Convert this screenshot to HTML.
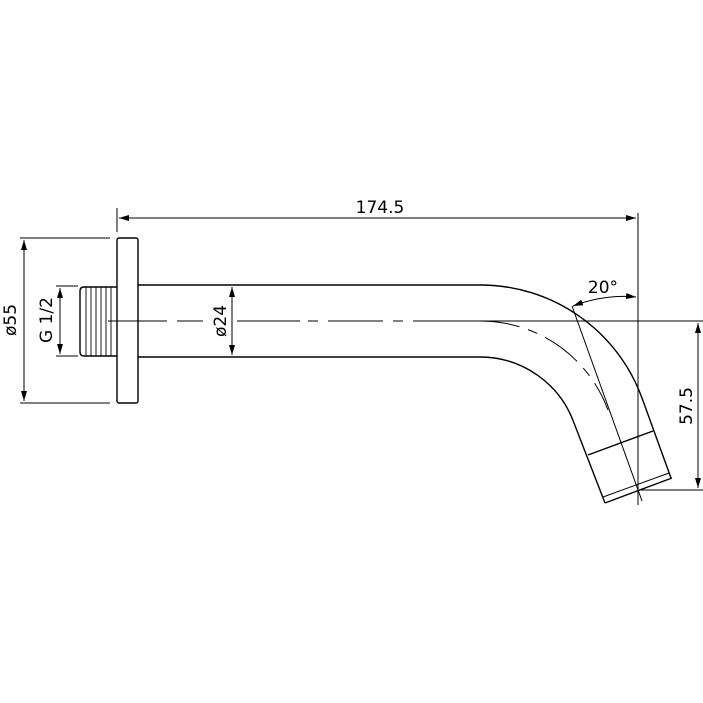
<!DOCTYPE html>
<html><head><meta charset="utf-8"><style>body{margin:0;background:#fff}svg{display:block}</style></head><body>
<svg width="703" height="703" viewBox="0 0 703 703" xmlns="http://www.w3.org/2000/svg">
<defs>
<marker id="a" viewBox="0 0 10 6" refX="10" refY="3" markerWidth="10" markerHeight="6" markerUnits="userSpaceOnUse" orient="auto-start-reverse"><path d="M0,0L10,3L0,6z" fill="#000"/></marker>
</defs>
<g fill="none" stroke="#000" stroke-width="1.4">
<rect x="117" y="238" width="21" height="165" rx="2"/>
<path d="M117,287 H84 Q80,287 80,291 V352 Q80,356 84,356 H117"/>
<g stroke-width="0.9">
<path d="M86,287V356M91,287V356M96,287V356M101,287V356M106,287V356M111,287V356"/>
</g>
<path d="M138,285 H480 A172,172 0 0 1 642,398 L671,478"/>
<path d="M138,357 H480 A100,100 0 0 1 574,423 L605,503"/>
<path d="M605,503 L672,478"/>
<path d="M603,497 L669,473" stroke-width="1"/>
<path d="M588,455 L653,431"/>
<g stroke-width="1">
<path d="M108,321 H150"/>
<path d="M150,321 H167 M177,321 H203"/>
<path d="M237,321 H300 M308,321 H318 M328,321 H383 M393,321 H403 M413,321 H480"/>
<path d="M480,321 A136,136 0 0 1 608,410" stroke-dasharray="40 9 10 9"/>
<path d="M480,321 H703"/>
<path d="M572,306 L642,501"/>
<path d="M638,213 V505"/>
<path d="M640,490 H703"/>
<path d="M117,208 V232"/>
<path d="M20,238 H110 M20,403 H110"/>
<path d="M56,286 H78 M56,356 H78"/>
</g>
<g stroke-width="1">
<path d="M119,218 H636" marker-start="url(#a)" marker-end="url(#a)"/>
<path d="M24,240 V401" marker-start="url(#a)" marker-end="url(#a)"/>
<path d="M60,288 V354" marker-start="url(#a)" marker-end="url(#a)"/>
<path d="M232,287 V355" marker-start="url(#a)" marker-end="url(#a)"/>
<path d="M698,323 V488" marker-start="url(#a)" marker-end="url(#a)"/>
<path d="M573,306 Q605,294 636,297" marker-start="url(#a)" marker-end="url(#a)"/>
</g>
</g>
<g font-family="DejaVu Sans, sans-serif" font-size="17" fill="#000">
<text x="380" y="213" text-anchor="middle">174.5</text>
<text x="603" y="293" text-anchor="middle">20°</text>
<text transform="translate(16,320) rotate(-90)" text-anchor="middle">ø55</text>
<text transform="translate(52,320) rotate(-90)" text-anchor="middle">G 1/2</text>
<text transform="translate(226,321) rotate(-90)" text-anchor="middle">ø24</text>
<text transform="translate(692,406) rotate(-90)" text-anchor="middle">57.5</text>
</g>
</svg>
</body></html>
